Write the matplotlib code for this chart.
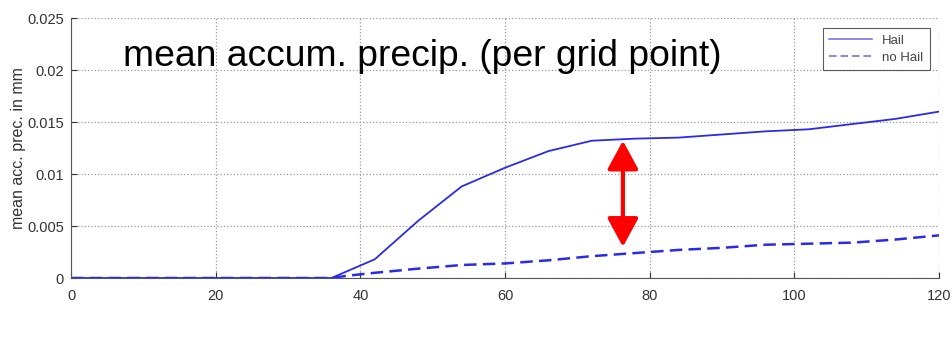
import matplotlib.pyplot as plt

# accumulated precipitation, time in minutes
t_hail = [0, 36, 42, 48, 54, 60, 66, 72, 78, 84, 90, 96, 102, 108, 114, 120]
p_hail = [0, 0, 0.0018, 0.0055, 0.0088, 0.0106, 0.0122, 0.0132, 0.0134,
          0.0135, 0.0138, 0.0141, 0.0143, 0.0148, 0.0153, 0.0160]

t_nohail = [0, 36, 38, 42, 48, 54, 60, 66, 72, 78, 84, 90, 96, 102, 108, 114, 120]
p_nohail = [0, 0, 0.0002, 0.0005, 0.0009, 0.00125, 0.0014, 0.0017, 0.0021,
            0.0024, 0.0027, 0.0029, 0.0032, 0.0033, 0.0034, 0.0037, 0.0041]

xticks = [0, 20, 40, 60, 80, 100, 120]
yticks = [0, 0.005, 0.01, 0.015, 0.02, 0.025]
ytick_labels = ['0', '0.005', '0.01', '0.015', '0.02', '0.025']

# difference marker between the two runs
arrow_x = 76.3
arrow_top = 0.0132
arrow_bottom = 0.0030

plt.rcParams['font.family'] = ['Liberation Sans', 'DejaVu Sans']

fig = plt.figure(figsize=(9.53, 3.41), dpi=100)
ax = fig.add_axes([71 / 953, 1 - 278 / 341, (939 - 71) / 953, (278 - 18) / 341])

line_col = '#2b2be6'
ax.plot(t_hail, p_hail, color=line_col, lw=1.3, label='Hail')
ax.plot(t_nohail, p_nohail, color=line_col, lw=1.8, ls=(0, (5, 2.5)), label='no Hail')

ax.set_xlim(0, 120)
ax.set_ylim(0, 0.025)
ax.set_xticks(xticks)
ax.set_yticks(yticks)
ax.set_yticklabels(ytick_labels)
ax.tick_params(direction='in', length=4, labelsize=10.5, colors='#333333')
ax.tick_params(axis='x', pad=8)
ax.tick_params(axis='y', pad=5)
ax.grid(True, ls=':', color='#999999', lw=0.9)

for side in ['top', 'right']:
    ax.spines[side].set_visible(False)
for side in ['left', 'bottom']:
    ax.spines[side].set_color('#555555')

ax.set_ylabel('mean acc. prec. in mm', fontsize=11.5, color='#333333', labelpad=1)

ax.text(7.2, 0.02125, 'mean accum. precip. (per grid point)', fontsize=26.8,
        color='black', va='center', ha='left')

ax.annotate('', xy=(arrow_x, arrow_top), xytext=(arrow_x, arrow_bottom),
            arrowprops=dict(arrowstyle='<|-|>,head_length=1.75,head_width=0.95',
                            color='#ff0000', lw=3, mutation_scale=10,
                            shrinkA=0, shrinkB=0))

leg = ax.legend(loc='upper right', fontsize=9.5, frameon=True, fancybox=False,
                handlelength=3.2, borderpad=0.5, labelspacing=0.35,
                bbox_to_anchor=(0.9896, 0.9615), borderaxespad=0)
leg.get_frame().set_edgecolor('#333333')
leg.get_frame().set_linewidth(0.8)
for txt in leg.get_texts():
    txt.set_color('#444444')
for h in leg.get_lines():
    h.set_color('#6a6ae8')
    h.set_linewidth(1.1)

fig.savefig('out.png', dpi=100)
